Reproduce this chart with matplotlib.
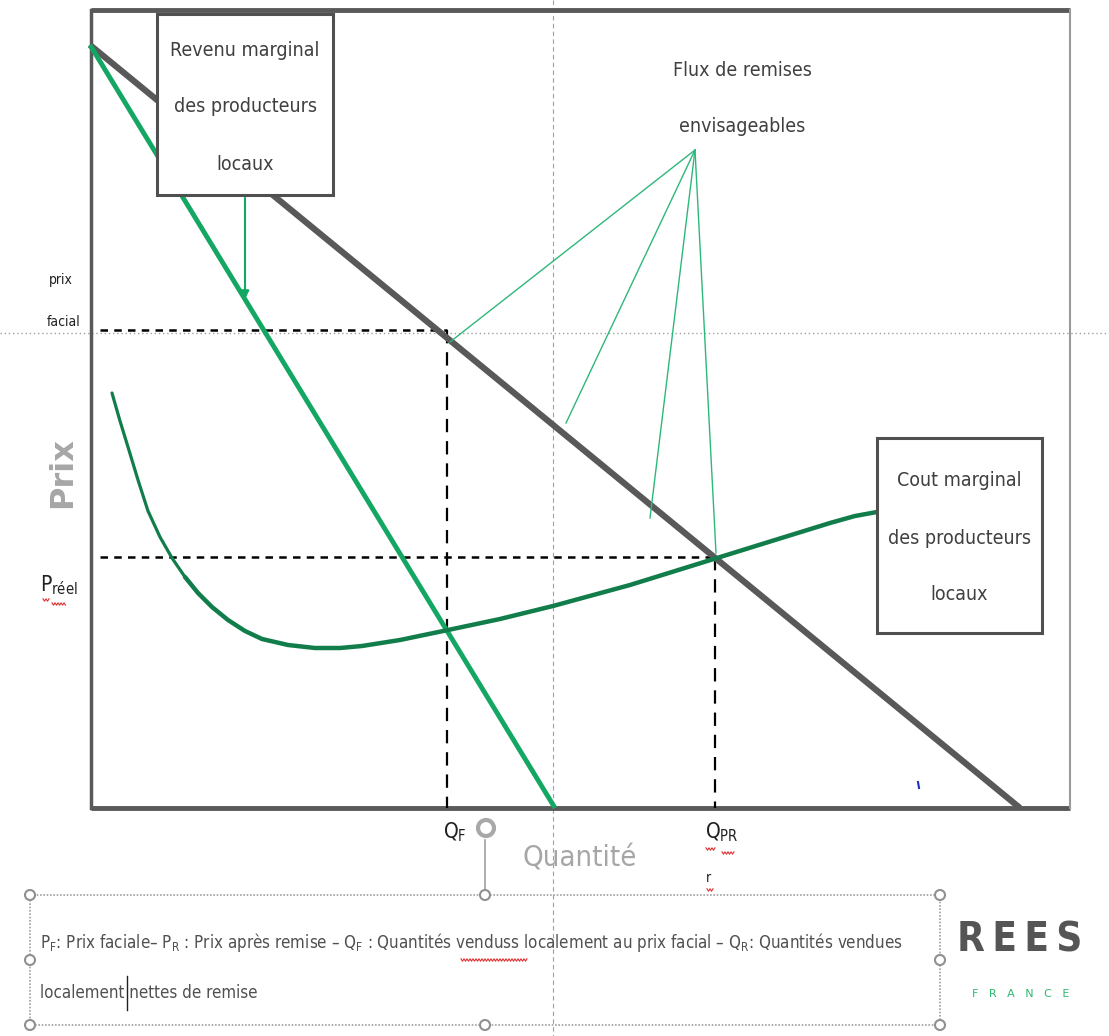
import matplotlib
matplotlib.use("Agg")
import numpy as np
import matplotlib.pyplot as plt
from matplotlib.patches import Rectangle, Circle, FancyArrowPatch

plt.rcParams['font.family'] = ['DejaVu Sans']
plt.rcParams['font.stretch'] = 'condensed'
plt.rcParams['mathtext.fontset'] = 'custom'
plt.rcParams['mathtext.rm'] = 'DejaVu Sans:stretch=condensed'
plt.rcParams['mathtext.it'] = 'DejaVu Sans:stretch=condensed'

# ---- diagram data (pixel space of the drawing) ----
frame_x = [91, 1070]
frame_y = [10, 808]
demand_q = [90, 1020]
demand_p = [45, 808]
mr_q = [90, 555]
mr_p = [45, 808]
mc_q = [112, 120, 128, 138, 148, 160, 172, 185, 198, 212, 228, 245, 262, 288, 315, 340, 362, 400,
        448, 500, 553, 630, 717, 775, 830, 855, 877]
mc_p = [393, 421, 447, 480, 511, 537, 558, 577, 593, 607, 620, 631, 639, 645, 648, 648, 646, 640,
        630, 619, 606, 585, 558, 540, 523, 516, 512]
q_f, q_pr = 447, 715
p_facial, p_reel = 330, 557
flux_origin = (695, 150)
flux_targets_q = [450, 566, 650, 716]
flux_targets_p = [342, 423, 518, 553]

box_rm = (157, 14, 176, 181)
box_cm = (877, 438, 165, 195)
rm_lines = ["Revenu marginal", "des producteurs", "locaux"]
cm_lines = ["Cout marginal", "des producteurs", "locaux"]
flux_lines = ["Flux de remises", "envisageables"]
legend_line1 = (r"P$_\mathrm{F}$: Prix faciale– P$_\mathrm{R}$ : Prix après remise – Q$_\mathrm{F}$ : "
                r"Quantités venduss localement au prix facial – Q$_\mathrm{R}$: Quantités vendues")
legend_line2 = "localement nettes de remise"

GRAY = '#595959'
GREEN = '#14a763'
DGREEN = '#117d4a'
TXT = '#404040'

fig = plt.figure(figsize=(11.09, 10.36), dpi=100)
ax = fig.add_axes([0, 0, 1, 1])
ax.set_xlim(0, 1109)
ax.set_ylim(1036, 0)
ax.axis('off')

# guides
ax.plot([553, 553], [0, 1036], color='#a0a0a0', lw=0.8, ls=(0, (4, 3)), zorder=1)
ax.plot([0, 1109], [333, 333], color='#a0a0a0', lw=1.0, ls=(0, (1, 2)), zorder=1)

# frame
ax.plot([frame_x[0], frame_x[1]], [frame_y[0], frame_y[0]], color=GRAY, lw=3.5, solid_capstyle='butt', zorder=3)
ax.plot([frame_x[0], frame_x[0]], [frame_y[0], frame_y[1]], color=GRAY, lw=2.5, zorder=3)
ax.plot([frame_x[0], frame_x[1]], [frame_y[1], frame_y[1]], color=GRAY, lw=3.5, solid_capstyle='butt', zorder=3)
ax.plot([frame_x[1], frame_x[1]], [frame_y[0], frame_y[1]], color='#9a9a9a', lw=1.5, zorder=3)

# dashed reference lines
ax.plot([100, q_f], [p_facial, p_facial], color='black', lw=1.8, ls=(0, (3, 2.5)), zorder=4)
ax.plot([100, q_pr], [p_reel, p_reel], color='black', lw=1.8, ls=(0, (3, 2.5)), zorder=4)
ax.plot([q_f, q_f], [p_facial, frame_y[1]], color='black', lw=1.6, ls=(0, (6, 4)), zorder=4)
ax.plot([q_pr, q_pr], [p_reel, frame_y[1]], color='black', lw=1.6, ls=(0, (6, 4)), zorder=4)

# curves
ax.plot(demand_q, demand_p, color=GRAY, lw=4.5, solid_capstyle='butt', zorder=5)
ax.plot(mr_q, mr_p, color=GREEN, lw=3.5, solid_capstyle='butt', zorder=6)
ax.plot(mc_q[:8], mc_p[:8], color=DGREEN, lw=2.3, solid_joinstyle='round', solid_capstyle='round', zorder=6)
ax.plot(mc_q[7:], mc_p[7:], color=DGREEN, lw=3.2, solid_joinstyle='round', solid_capstyle='round', zorder=6)

# flux lines
for tq, tp in zip(flux_targets_q, flux_targets_p):
    ax.plot([flux_origin[0], tq], [flux_origin[1], tp], color='#2db87a', lw=1.0, zorder=7)

# boxes
def text_box(box, lines, ys):
    x, y, w, h = box
    ax.add_patch(Rectangle((x, y), w, h, fill=True, facecolor='white', edgecolor='#505050', lw=2.2, zorder=8))
    for line, yy in zip(lines, ys):
        ax.text(x + w / 2, yy, line, ha='center', va='center', fontsize=14, color=TXT, zorder=9)

text_box(box_rm, rm_lines, [50, 107, 164])
text_box(box_cm, cm_lines, [481, 538, 595])
ax.add_patch(FancyArrowPatch((245, 195), (245, 302), arrowstyle='-|>', mutation_scale=12,
                             color=GREEN, lw=1.5, zorder=8))
for line, yy in zip(flux_lines, [70, 127]):
    ax.text(742, yy, line, ha='center', va='center', fontsize=14, color=TXT, zorder=9)

# axis labels
ax.text(61, 280, "prix", ha='center', va='center', fontsize=10, color='#202020')
ax.text(64, 322, "facial", ha='center', va='center', fontsize=10, color='#202020')
ax.text(63, 473, "Prix", ha='center', va='center', fontsize=23, color='#a6a6a6', rotation=90,
        fontweight='bold', fontstretch='normal')
ax.text(40, 585, r"P$_\mathrm{réel}$", ha='left', va='center', fontsize=15, color='#202020')
ax.text(443, 832, r"Q$_\mathrm{F}$", ha='left', va='center', fontsize=15, color='#202020')
ax.text(705, 832, r"Q$_\mathrm{PR}$", ha='left', va='center', fontsize=15, color='#202020')
ax.text(706, 878, "r", ha='left', va='center', fontsize=10, color='#202020')
ax.text(580, 858, "Quantité", ha='center', va='center', fontsize=21, color='#a6a6a6')

# spell-check squiggles and small marks of the screenshot
def squiggle(x0, x1, y):
    xs = np.arange(x0, x1 + 0.1, 1.5)
    ys = y + np.where(np.arange(len(xs)) % 2 == 0, -1.2, 1.2)
    ax.plot(xs, ys, color='#e03030', lw=0.8, zorder=10)

squiggle(43, 50, 600)
squiggle(52, 66, 604)
squiggle(706, 716, 849)
squiggle(722, 735, 853)
squiggle(707, 713, 890)
squiggle(461, 527, 960)
ax.plot([127, 127], [976, 1010], color='#202020', lw=1.0, zorder=10)
ax.plot([918, 919], [782, 788], color='#2030c0', lw=1.5, zorder=10)

# selection handles of the text box
ax.plot([485, 485], [840, 895], color='#a0a0a0', lw=1.2, zorder=2)
ax.add_patch(Circle((486, 828), 8, facecolor='white', edgecolor='#a8a8a8', lw=3, zorder=3))
ax.add_patch(Rectangle((30, 895), 910, 130, fill=False, edgecolor='#a0a0a0', lw=1.2,
                       ls=(0, (1, 1)), zorder=2))
for hx, hy in [(30, 895), (485, 895), (940, 895), (30, 960), (940, 960),
               (30, 1025), (485, 1025), (940, 1025)]:
    ax.add_patch(Circle((hx, hy), 5, facecolor='white', edgecolor='#909090', lw=1.5, zorder=3))

ax.text(40, 943, legend_line1, ha='left', va='center', fontsize=12.2, color='#505050', zorder=4)
ax.text(40, 993, legend_line2, ha='left', va='center', fontsize=12.2, color='#505050', zorder=4)

# logo
ax.text(1020, 940, "R\u2009E\u2009E\u2009S", ha='center', va='center', fontsize=29, color='#555555',
        fontweight='bold')
ax.text(1021, 994, "F   R   A   N   C   E", ha='center', va='center', fontsize=8, color='#2db872',
        fontstretch='normal')

fig.savefig('out.png', dpi=100)
